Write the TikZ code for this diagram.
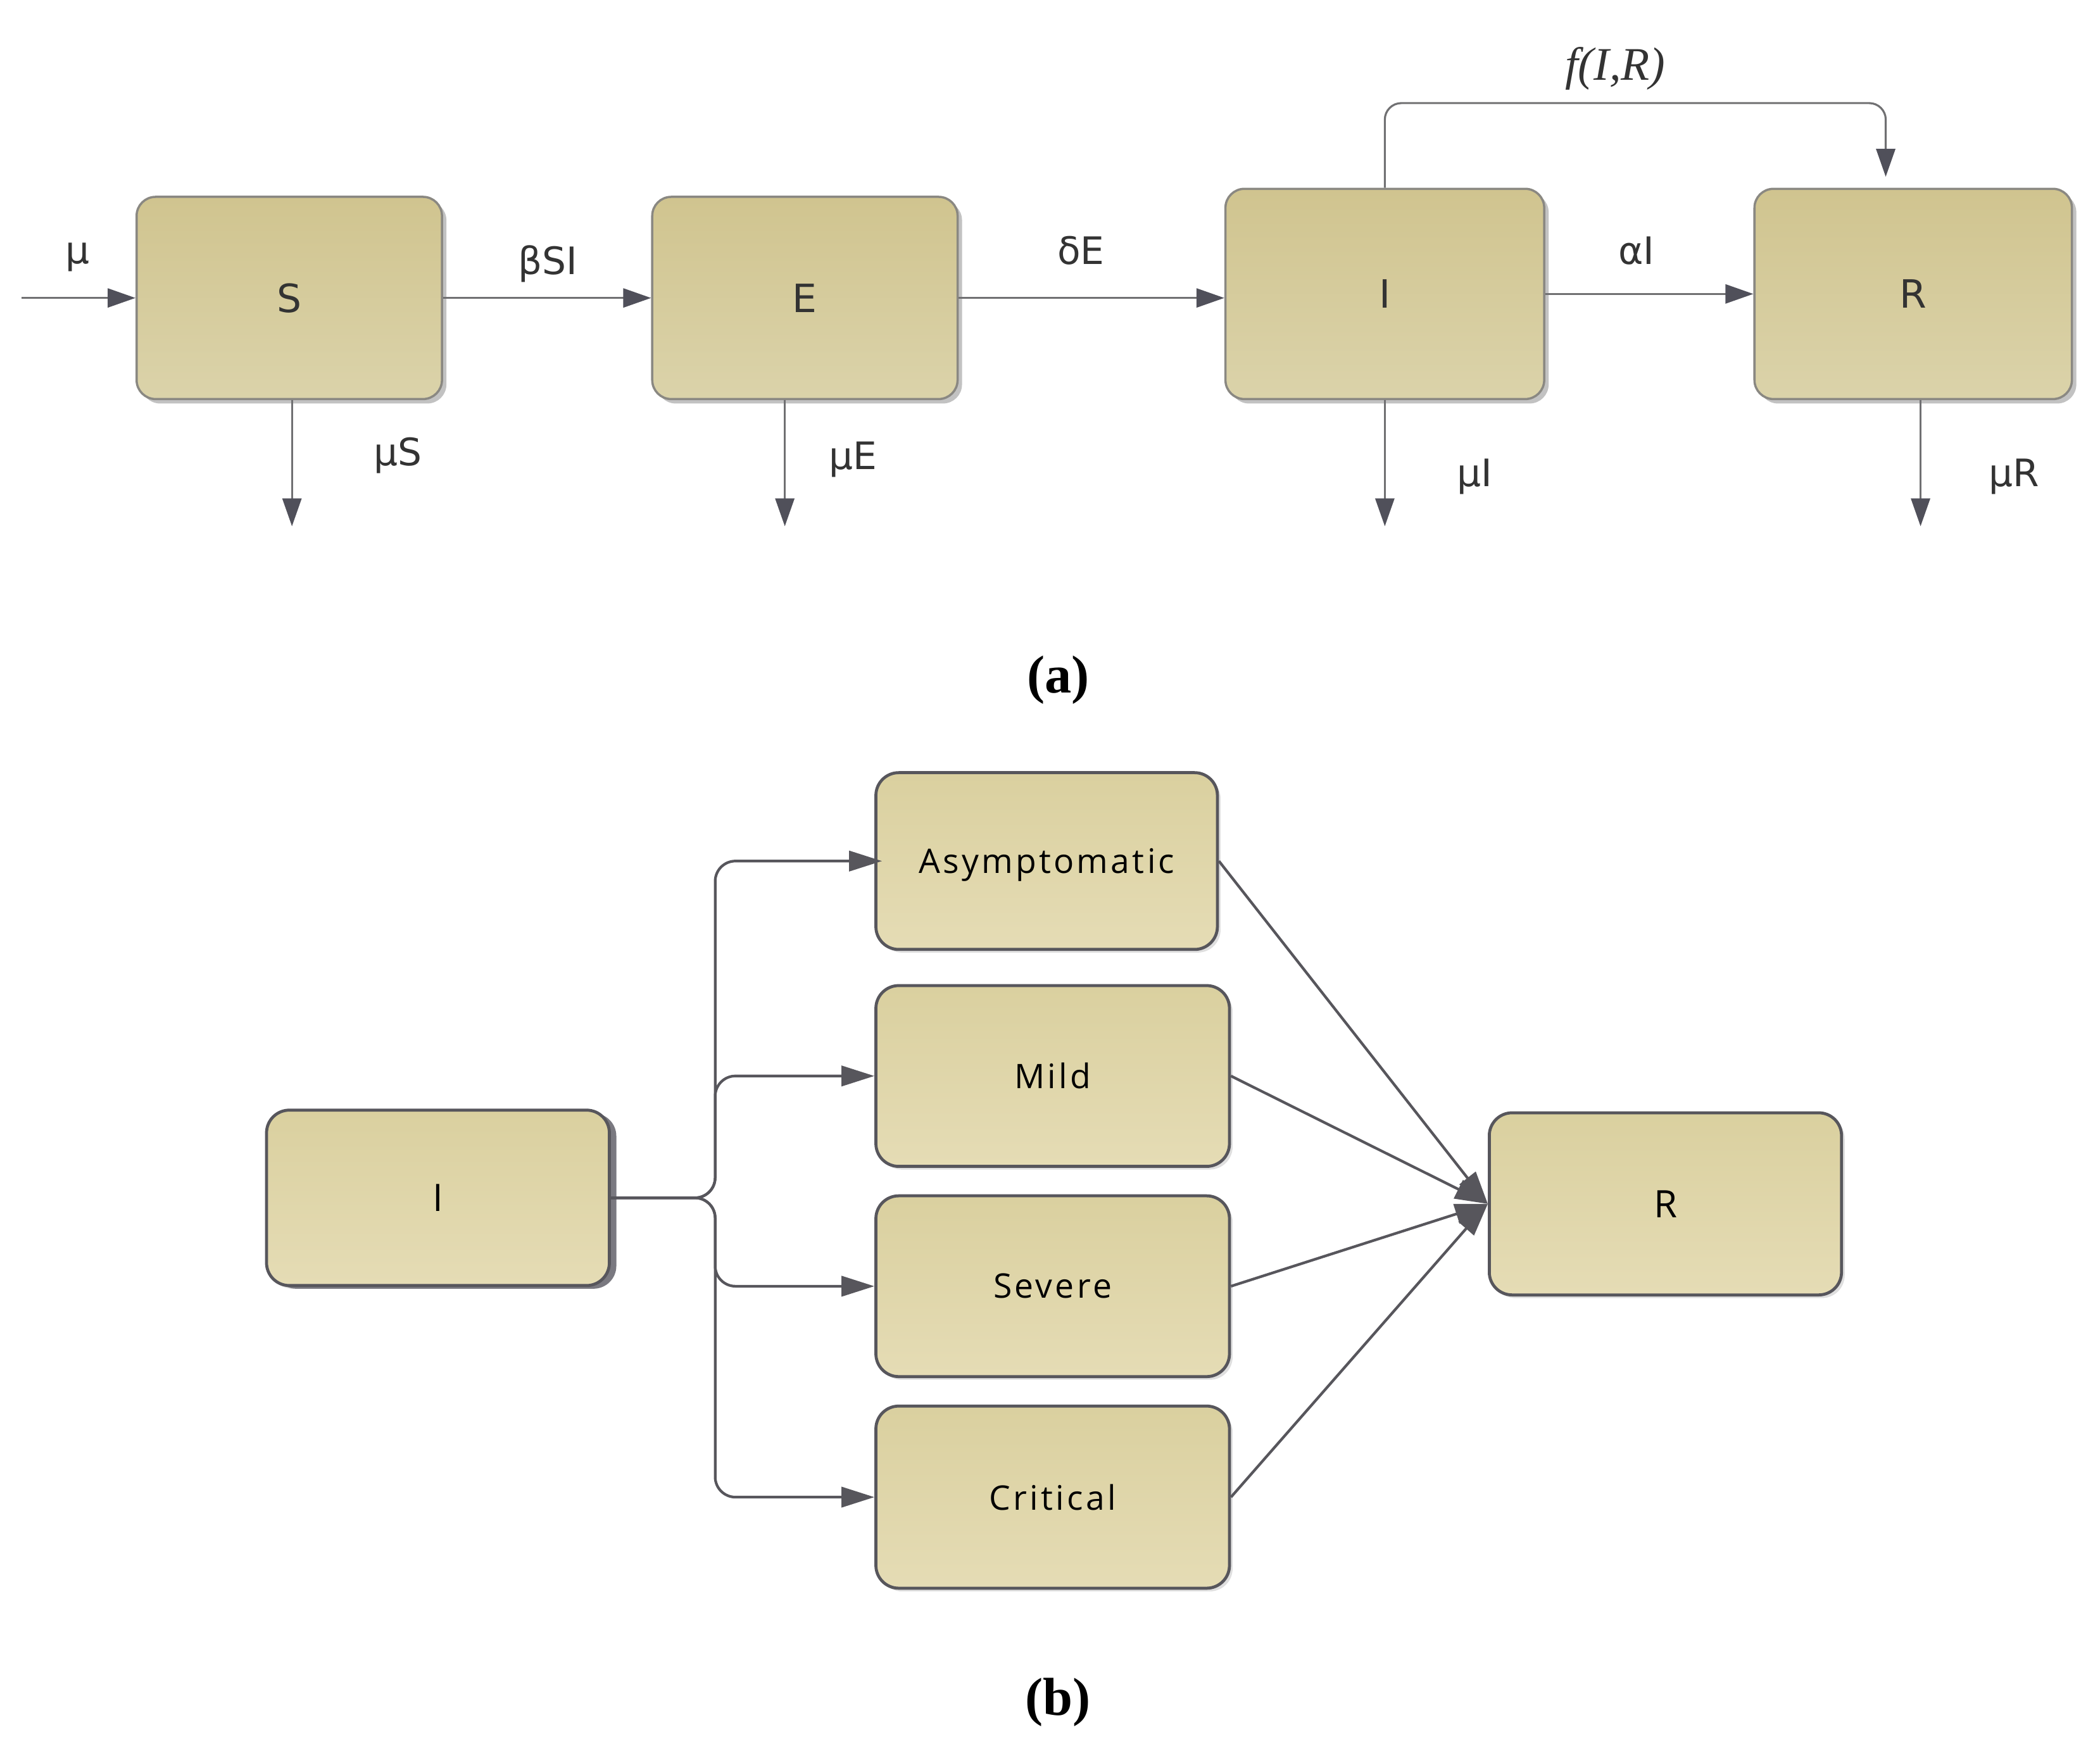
\documentclass[tikz,border=0pt]{standalone}
\usepackage{fontspec}
\usetikzlibrary{arrows.meta,shadows}
\newfontfamily\fa{DejaVu Sans}
\newfontfamily\fb[LetterSpace=8]{Open Sans}
\newfontfamily\fbb{Open Sans}
\newfontfamily\fc{Liberation Serif}
\definecolor{boxAa}{HTML}{D0C48F}
\definecolor{boxAb}{HTML}{DBD3AA}
\definecolor{bdA}{HTML}{8A8882}
\definecolor{lnA}{HTML}{707072}
\definecolor{tipA}{HTML}{50505A}
\definecolor{txtA}{HTML}{333333}
\definecolor{boxBa}{HTML}{DAD09F}
\definecolor{boxBb}{HTML}{E5DCB5}
\definecolor{lnB}{HTML}{57565C}
\definecolor{shB}{HTML}{7A7980}
\tikzset{
  sz/.style 2 args={minimum width=#1*0.021154cm, minimum height=#2*0.021154cm},
  boxa/.style={draw=bdA, line width=1pt, rounded corners=0.3cm,
    top color=boxAa, bottom color=boxAb, inner sep=0pt, text=txtA,
    font=\fa\fontsize{17.5}{20}\selectfont,
    drop shadow={shadow xshift=0.07cm, shadow yshift=-0.07cm, opacity=0.4, fill=black!60}},
  boxb/.style={draw=lnB, line width=1.35pt, rounded corners=0.36cm,
    top color=boxBa, bottom color=boxBb, inner sep=0pt, text=black,
    font=\fb\fontsize{15.2}{18}\selectfont,
    drop shadow={shadow xshift=0.05cm, shadow yshift=-0.05cm, opacity=0.25, fill=black!50}},
  lbla/.style={text=txtA, inner sep=0pt, font=\fa\fontsize{17}{20}\selectfont},
  arra/.style={draw=lnA, line width=0.9pt, -{Triangle[length=0.44cm, width=0.3cm, color=tipA]}},
  arrb/.style={draw=lnB, line width=1.2pt, -{Triangle[length=0.52cm, width=0.32cm]}},
  captxt/.style={inner sep=0pt, font=\fc\bfseries\fontsize{24}{28}\selectfont}
}
\begin{document}
\begin{tikzpicture}[x=0.021154cm, y=-0.021154cm]
\useasboundingbox (0,0) rectangle (1568,1297);
% ---------- (a) ----------
\node[boxa, sz={228}{151}] (S)  at (216,222.5)   {S};
\node[boxa, sz={228}{151}] (E)  at (601,222.5)   {E};
\node[boxa, sz={238}{157}] (Ia) at (1034,219.5)  {I};
\node[boxa, sz={237}{157}] (Ra) at (1428.5,219.5) {R};

\coordinate (in) at (16,222.5);
\coordinate (ftop) at (0,77);
\coordinate (fR) at (1408,132);
\coordinate (dS) at (218,393);
\coordinate (dE) at (586,393);
\coordinate (dI) at (1034,393);
\coordinate (dR) at (1434,393);

\draw[arra] (in) -- (S);
\draw[arra] (S) -- (E);
\draw[arra] (E.east) -- (E.east -| Ia.west);
\draw[arra] (Ia) -- (Ra);
\draw[arra, rounded corners=0.26cm] (Ia.north) |- (fR |- ftop) -- (fR);
\draw[arra] (dS |- S.south) -- (dS);
\draw[arra] (dE |- E.south) -- (dE);
\draw[arra] (dI |- Ia.south) -- (dI);
\draw[arra] (dR |- Ra.south) -- (dR);

\node[lbla] (lmu) at (58,192) {μ};
\node[lbla] (lbeta) at (409,197) {βSI};
\node[lbla] (ldelta) at (807,187) {δE};
\node[lbla] (lalpha) at (1222,187) {αI};
\node[inner sep=0pt, text=txtA, font=\fc\itshape\fontsize{21}{24}\selectfont] (lf) at (1206,51) {f(I,R)};
\node[lbla] (lmS) at (297,340) {μS};
\node[lbla] (lmE) at (637,343) {μE};
\node[lbla] (lmI) at (1101,356) {μI};
\node[lbla] (lmR) at (1504,356) {μR};
\node[captxt] (capa) at (790,508) {(a)};

% ---------- (b) ----------
\node[boxb, sz={256}{131}, font=\fbb\fontsize{17}{19}\selectfont,
  drop shadow={shadow xshift=0.11cm, shadow yshift=-0.05cm, opacity=1, fill=shB}] (Ib) at (327,894.5) {I};
\node[boxb, sz={255}{132}, text depth=0pt] (Asym) at (781.5,643) {Asymptomatic};
\node[boxb, sz={264}{135}] (Mild) at (786,803.5) {Mild};
\node[boxb, sz={264}{135}] (Sev)  at (786,960.5) {Severe};
\node[boxb, sz={264}{136}] (Crit) at (786,1118) {Critical};
\node[boxb, sz={263}{136}, font=\fbb\fontsize{17}{19}\selectfont] (Rb) at (1243.5,899) {R};

\coordinate (tr) at (534,894.5);
\draw[arrb, rounded corners=0.32cm] (Ib.east) -- (tr) |- ([xshift=0.12cm]Asym.west);
\draw[arrb, rounded corners=0.32cm] (Ib.east) -- (tr) |- (Mild.west);
\draw[arrb, rounded corners=0.32cm] (Ib.east) -- (tr) |- (Sev.west);
\draw[arrb, rounded corners=0.32cm] (Ib.east) -- (tr) |- (Crit.west);

\draw[arrb] (Asym.east) -- (Rb.west);
\draw[arrb] (Mild.east) -- (Rb.west);
\draw[arrb] (Sev.east) -- (Rb.west);
\draw[arrb] (Crit.east) -- (Rb.west);

\node[captxt] (capb) at (790,1271) {(b)};
\end{tikzpicture}
\end{document}
